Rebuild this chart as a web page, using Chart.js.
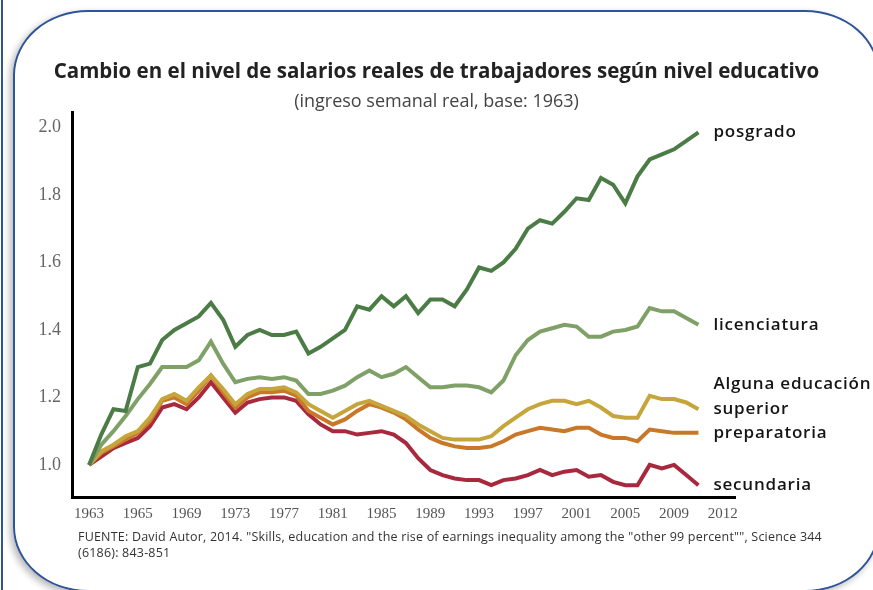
<!DOCTYPE html>
<html lang="es">
<head>
<meta charset="utf-8">
<script src="https://cdn.jsdelivr.net/npm/chart.js@4.4.1/dist/chart.umd.min.js"></script>
<style>
  html, body { margin: 0; padding: 0; background: #fff; overflow: hidden; }
  #borde {
    position: absolute; left: 13px; top: 10px; width: 863px; height: 578px;
    border: 2px solid #2f5597; border-radius: 75px / 65px;
    box-shadow: -3px 3px 7px rgba(0,0,0,0.28);
  }
  #tira { position: absolute; left: 1px; top: 0; width: 2px; height: 590px; background: #2f5597; }
  #lienzo { position: absolute; left: 0; top: 0; }
  #fuente {
    position: absolute; left: 78px; top: 529px; width: 790px;
    font: 12.5px "Open Sans", sans-serif; letter-spacing: 0.2px; line-height: 16px; color: #333;
  }
</style>
</head>
<body>
<div id="tira"></div>
<div id="borde"></div>
<div id="lienzo"><canvas id="grafica" width="873" height="590"></canvas></div>
<div id="fuente">FUENTE: David Autor, 2014. "Skills, education and the rise of earnings inequality among the "other 99 percent"", Science 344<br>(6186): 843-851</div>
<script>
// Etiquetas del eje X (como aparecen en la figura)
const etiquetasX = ["1963", "1965", "1969", "1973", "1977", "1981", "1985", "1989", "1993", "1997", "2001", "2005", "2009", "2012"];
const ticksY = [1.0, 1.2, 1.4, 1.6, 1.8, 2.0];

// Series (ingreso semanal real, base 1963 = 1.0)
const posgrado = [1.00, 1.09, 1.165, 1.16, 1.29, 1.30, 1.37, 1.40, 1.42, 1.44, 1.48, 1.43, 1.35, 1.385, 1.40, 1.385, 1.385, 1.395, 1.33, 1.35,
  1.375, 1.40, 1.47, 1.46, 1.50, 1.47, 1.50, 1.45, 1.49, 1.49, 1.47, 1.52, 1.585, 1.575, 1.60, 1.64, 1.70, 1.725, 1.715, 1.75,
  1.79, 1.785, 1.85, 1.83, 1.775, 1.855, 1.905, 1.92, 1.935, 1.96, 1.985];
const licenciatura = [1.00, 1.06, 1.10, 1.145, 1.195, 1.24, 1.29, 1.29, 1.29, 1.31, 1.365, 1.30, 1.245, 1.255, 1.26, 1.255, 1.26, 1.25, 1.21, 1.21,
  1.22, 1.235, 1.26, 1.28, 1.26, 1.27, 1.29, 1.26, 1.23, 1.23, 1.235, 1.235, 1.23, 1.215, 1.25, 1.325, 1.37, 1.395, 1.405, 1.415,
  1.41, 1.38, 1.38, 1.395, 1.40, 1.41, 1.465, 1.455, 1.455, 1.435, 1.415];
const algunaSuperior = [1.00, 1.04, 1.06, 1.085, 1.10, 1.14, 1.195, 1.21, 1.19, 1.23, 1.265, 1.225, 1.18, 1.21, 1.225, 1.225, 1.23, 1.215, 1.18, 1.16,
  1.14, 1.16, 1.18, 1.19, 1.175, 1.16, 1.145, 1.12, 1.10, 1.08, 1.075, 1.075, 1.075, 1.085, 1.115, 1.14, 1.165, 1.18, 1.19, 1.19,
  1.18, 1.19, 1.17, 1.145, 1.14, 1.14, 1.205, 1.195, 1.195, 1.185, 1.165];
const preparatoria = [1.00, 1.035, 1.055, 1.075, 1.095, 1.13, 1.19, 1.20, 1.18, 1.22, 1.265, 1.215, 1.17, 1.20, 1.215, 1.215, 1.22, 1.205, 1.16, 1.14,
  1.12, 1.135, 1.16, 1.18, 1.17, 1.155, 1.135, 1.105, 1.08, 1.065, 1.055, 1.05, 1.05, 1.055, 1.07, 1.09, 1.10, 1.11, 1.105, 1.10,
  1.11, 1.11, 1.09, 1.08, 1.08, 1.07, 1.105, 1.10, 1.095, 1.095, 1.095];
const secundaria = [1.00, 1.025, 1.05, 1.065, 1.08, 1.115, 1.17, 1.18, 1.165, 1.20, 1.245, 1.20, 1.155, 1.185, 1.195, 1.20, 1.20, 1.19, 1.15, 1.12,
  1.10, 1.10, 1.09, 1.095, 1.10, 1.09, 1.065, 1.02, 0.985, 0.97, 0.96, 0.955, 0.955, 0.94, 0.955, 0.96, 0.97, 0.985, 0.97, 0.98,
  0.985, 0.965, 0.97, 0.95, 0.94, 0.94, 1.00, 0.99, 1.00, 0.97, 0.94];

const nombres = [["posgrado"], ["licenciatura"], ["Alguna educación", "superior"], ["preparatoria"], ["secundaria"]];
const series = [posgrado, licenciatura, algunaSuperior, preparatoria, secundaria];
const colores = ["#4b7c45", "#7fa066", "#c6a63c", "#c9782a", "#a8283d"];

// Etiquetas a la derecha de cada línea
const etiquetasFinales = {
  id: "etiquetasFinales",
  afterDatasetsDraw(chart) {
    const ctx = chart.ctx;
    ctx.save();
    ctx.font = "600 17px 'Open Sans', sans-serif";
    ctx.letterSpacing = "0.8px";
    ctx.fillStyle = "#151515";
    ctx.textBaseline = "middle";
    chart.data.datasets.forEach((ds, i) => {
      const pts = chart.getDatasetMeta(i).data;
      const ult = pts[pts.length - 1];
      const lineas = nombres[i];
      lineas.forEach((t, j) => {
        ctx.fillText(t, ult.x + 15, ult.y - (lineas.length - 1 - j) * 25);
      });
    });
    ctx.restore();
  }
};

new Chart(document.getElementById("grafica"), {
  type: "line",
  data: {
    datasets: series.map((s, i) => ({
      label: nombres[i].join(" "),
      data: s.map((v, k) => ({ x: k, y: v })),
      borderColor: colores[i],
      borderWidth: 4,
      pointRadius: 0,
      tension: 0
    }))
  },
  options: {
    responsive: false,
    animation: false,
    layout: { padding: { left: 0, right: 0, top: 0, bottom: 68 } },
    plugins: {
      legend: { display: false },
      tooltip: { enabled: false },
      title: {
        display: true,
        text: "Cambio en el nivel de salarios reales de trabajadores según nivel educativo",
        font: { family: "'Open Sans', sans-serif", size: 20.5, weight: "bold" },
        color: "#222",
        padding: { top: 60, bottom: 3 }
      },
      subtitle: {
        display: true,
        text: "(ingreso semanal real, base: 1963)",
        font: { family: "'Open Sans', sans-serif", size: 18 },
        color: "#444",
        padding: { top: 3, bottom: 0 }
      }
    },
    scales: {
      x: {
        type: "linear",
        min: -1.4,
        max: 53,
        grid: { display: false },
        border: { display: true, color: "#000", width: 3 },
        afterBuildTicks: s => { s.ticks = etiquetasX.map((_, i) => ({ value: i * 4 })); },
        afterFit: s => { s.height = 25; },
        ticks: {
          autoSkip: false,
          maxRotation: 0,
          padding: 0,
          color: "#555",
          font: { family: "'Liberation Serif', serif", size: 15 },
          callback: (v, i) => etiquetasX[i]
        }
      },
      y: {
        min: 0.905,
        max: 2.045,
        grid: { display: false },
        border: { display: true, color: "#000", width: 3 },
        afterBuildTicks: s => { s.ticks = ticksY.map(v => ({ value: v })); },
        afterFit: s => { s.width = 72; },
        ticks: {
          padding: 3,
          color: "#666",
          font: { family: "'Liberation Serif', serif", size: 18 },
          callback: v => v.toFixed(1)
        }
      },
      // espacio a la derecha para las etiquetas de las series
      margen: {
        position: "right",
        grid: { display: false },
        border: { display: false },
        ticks: { display: false },
        afterFit: s => { s.width = 138; }
      }
    }
  },
  plugins: [etiquetasFinales]
});
</script>
</body>
</html>
